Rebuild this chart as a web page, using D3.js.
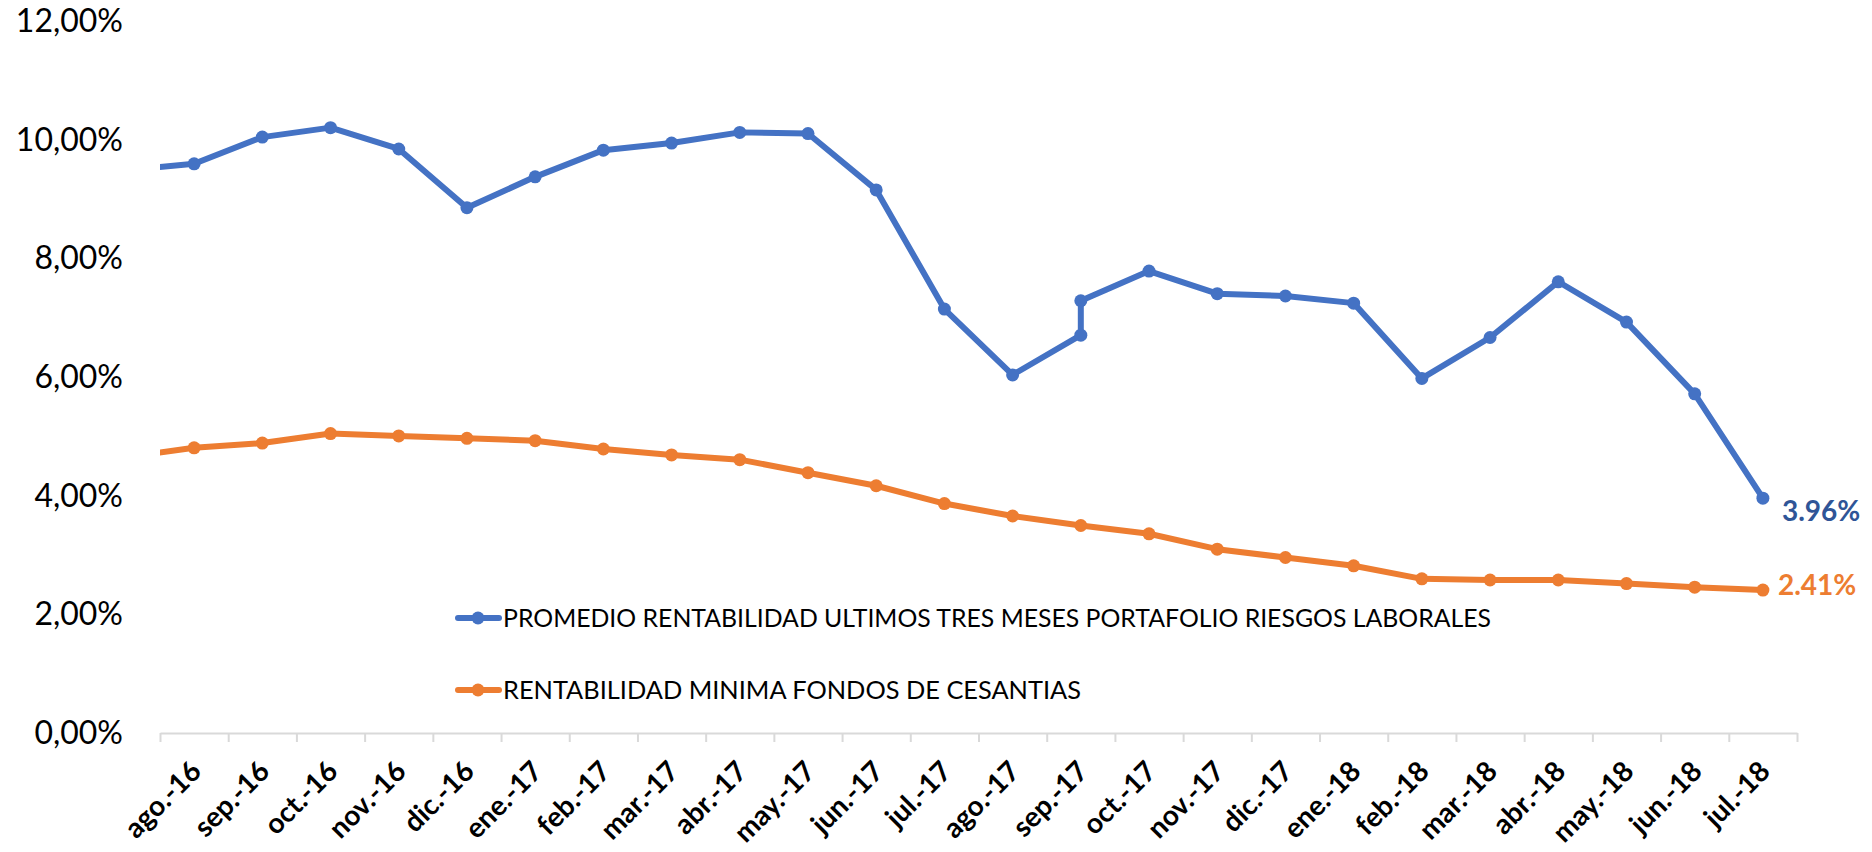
<!DOCTYPE html>
<html>
<head>
<meta charset="utf-8">
<script src="https://cdn.jsdelivr.net/npm/d3@7"></script>
<style>
  html, body { margin: 0; padding: 0; background: #fff; }
  svg { display: block; }
  text { font-family: Lato, "Open Sans", sans-serif; }
</style>
</head>
<body>
<svg id="chart" width="1872" height="852"></svg>
<script>
// ---- Data ----
const categories = ["ago.-16","sep.-16","oct.-16","nov.-16","dic.-16","ene.-17","feb.-17","mar.-17","abr.-17","may.-17","jun.-17","jul.-17","ago.-17","sep.-17","oct.-17","nov.-17","dic.-17","ene.-18","feb.-18","mar.-18","abr.-18","may.-18","jun.-18","jul.-18"];
// previous month (jul.-16) lies outside the visible axis; line is clipped at the plot edge
const prevCategory = "jul.-16";
// blue series: sep.-17 has two observations
const seriesBlueCats = ["jul.-16","ago.-16","sep.-16","oct.-16","nov.-16","dic.-16","ene.-17","feb.-17","mar.-17","abr.-17","may.-17","jun.-17","jul.-17","ago.-17","sep.-17","sep.-17","oct.-17","nov.-17","dic.-17","ene.-18","feb.-18","mar.-18","abr.-18","may.-18","jun.-18","jul.-18"];
const seriesBlue = [0.0949,0.0960,0.1005,0.1021,0.0985,0.0886,0.0938,0.0983,0.0995,0.1013,0.1011,0.0916,0.0715,0.0604,0.0671,0.0729,0.0779,0.0741,0.0737,0.0725,0.0598,0.0667,0.0761,0.0693,0.0572,0.0396];
const seriesOrangeCats = ["jul.-16"].concat(categories);
const seriesOrange = [0.0465,0.0481,0.0489,0.0505,0.0501,0.0497,0.0493,0.0479,0.0469,0.0461,0.0439,0.0417,0.0387,0.0366,0.0350,0.0336,0.0310,0.0296,0.0282,0.0260,0.0258,0.0258,0.0252,0.0246,0.0241];
const yTicks = [0,0.02,0.04,0.06,0.08,0.10,0.12];
const seriesNames = ["PROMEDIO RENTABILIDAD ULTIMOS TRES MESES PORTAFOLIO RIESGOS LABORALES","RENTABILIDAD MINIMA FONDOS DE CESANTIAS"];
const lastLabels = ["3.96%","2.41%"];

// ---- Layout ----
const svg = d3.select("#chart");
const plotL = 160, plotR = 1797, plotT = 21.5, plotB = 733;
const colors = ["#4472C4","#ED7D31"];
const labelColors = ["#2F5597","#ED7D31"];

const idx = c => c === prevCategory ? -1 : categories.indexOf(c);
const x = d3.scaleLinear().domain([0, categories.length]).range([plotL, plotR]);
const xc = c => x(idx(c) + 0.5);
const y = d3.scaleLinear().domain([0, 0.12]).range([plotB, plotT]);

const esLocale = d3.formatLocale({decimal: ",", thousands: ".", grouping: [3], currency: ["$", ""]});
const fmtY = esLocale.format(".2%");

svg.append("defs").append("clipPath").attr("id","plotclip")
  .append("rect").attr("x", plotL).attr("y", 0).attr("width", plotR - plotL + 60).attr("height", 852);

// Y axis (labels only)
const yAxis = svg.append("g").attr("transform", `translate(${plotL},0)`)
  .call(d3.axisLeft(y).tickValues(yTicks).tickFormat(fmtY).tickSize(0).tickPadding(37));
yAxis.select(".domain").remove();
yAxis.selectAll("text").attr("font-size", 32).attr("fill", "#000").attr("font-family", "Lato, sans-serif");

// X axis line and boundary ticks
const xAxis = svg.append("g").attr("transform", `translate(0,${plotB})`)
  .call(d3.axisBottom(x).tickValues(d3.range(0, categories.length + 1)).tickFormat("").tickSize(9).tickSizeOuter(0));
xAxis.select(".domain").attr("stroke", "#D9D9D9").attr("stroke-width", 2);
xAxis.selectAll(".tick line").attr("stroke", "#D9D9D9").attr("stroke-width", 2);

// X category labels
const xBand = d3.scaleBand().domain(categories).range([plotL, plotR]);
const xLab = svg.append("g").attr("transform", `translate(0,${plotB})`)
  .call(d3.axisBottom(xBand).tickSize(0).tickPadding(0));
xLab.select(".domain").remove();
xLab.selectAll("text")
  .attr("font-size", 28).attr("font-weight", "bold").attr("fill", "#000")
  .attr("font-family", "Lato, sans-serif")
  .attr("text-anchor", "end")
  .attr("dy", "0.35em")
  .attr("transform", "translate(2,33) rotate(-45)");

// Lines
const series = [
  {cats: seriesBlueCats, vals: seriesBlue},
  {cats: seriesOrangeCats, vals: seriesOrange}
];
const line = d3.line().x(d => xc(d.c)).y(d => y(d.v));
series.forEach((s, i) => {
  const pts = s.vals.map((v, j) => ({c: s.cats[j], v}));
  const g = svg.append("g").attr("clip-path", "url(#plotclip)");
  g.append("path").datum(pts).attr("d", line)
    .attr("fill", "none").attr("stroke", colors[i]).attr("stroke-width", 6)
    .attr("stroke-linejoin", "round");
  g.selectAll("circle").data(pts.filter(d => d.c !== prevCategory)).join("circle")
    .attr("cx", d => xc(d.c)).attr("cy", d => y(d.v)).attr("r", 6.5)
    .attr("fill", colors[i]);
  // last value label
  const last = pts[pts.length - 1];
  svg.append("text")
    .attr("x", xc(last.c) + (i === 0 ? 19 : 15))
    .attr("y", y(last.v) + (i === 0 ? 13 : -5))
    .attr("dy", "0.35em")
    .attr("font-size", 28).attr("font-weight", "bold")
    .attr("fill", labelColors[i]).text(lastLabels[i]);
});

// Legend
const legY = [618, 690];
seriesNames.forEach((name, i) => {
  const g = svg.append("g");
  g.append("line").attr("x1", 458).attr("x2", 499).attr("y1", legY[i]).attr("y2", legY[i])
    .attr("stroke", colors[i]).attr("stroke-width", 6).attr("stroke-linecap", "round");
  g.append("circle").attr("cx", 478).attr("cy", legY[i]).attr("r", 6.5).attr("fill", colors[i]);
  g.append("text").attr("x", 503).attr("y", legY[i]).attr("dy", "0.35em")
    .attr("font-size", 25).attr("fill", "#000")
    .attr("textLength", i === 0 ? 988 : 578).attr("lengthAdjust", "spacingAndGlyphs")
    .text(name);
});
</script>
</body>
</html>
